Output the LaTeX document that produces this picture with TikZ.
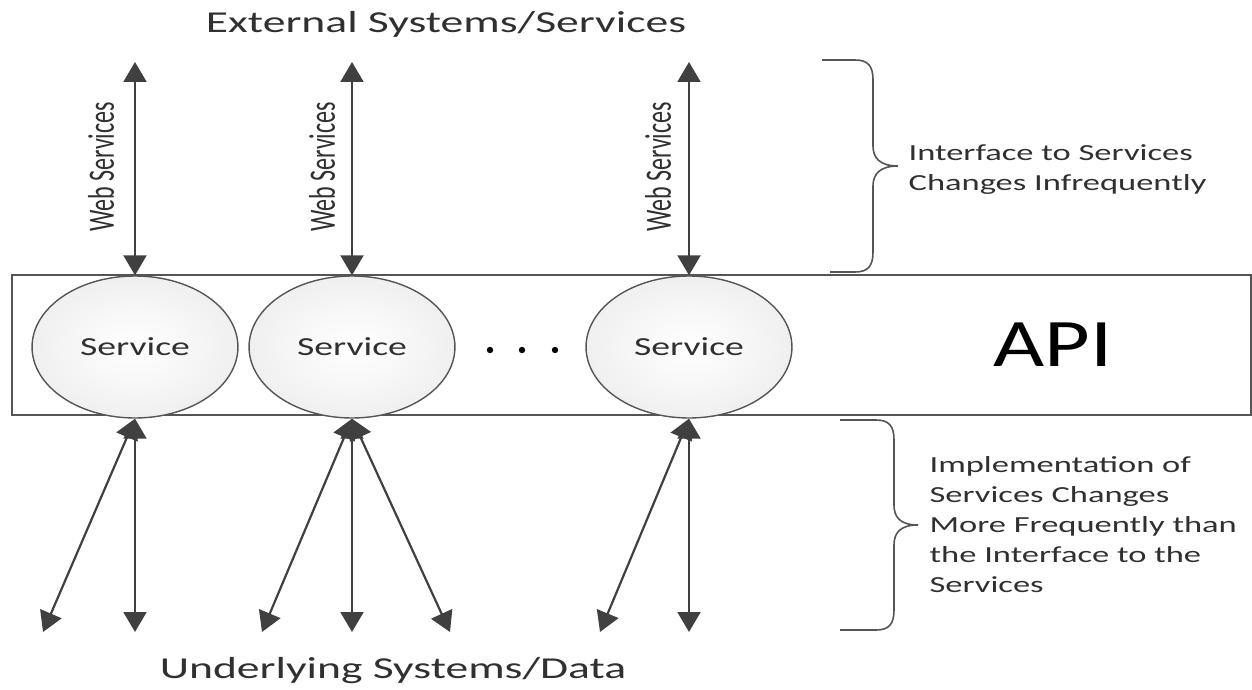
\documentclass[tikz,border=0pt]{standalone}
\usepackage{fontspec}
\setmainfont{Carlito}
\usetikzlibrary{arrows.meta}
\definecolor{txtgray}{HTML}{303030}
\definecolor{linegray}{HTML}{555555}
\definecolor{arrowgray}{HTML}{404040}

\begin{document}
\begin{tikzpicture}[x=0.5pt,y=-0.5pt,>={Triangle[length=10pt,width=11.5pt]}]
\tikzstyle{every node}=[text=txtgray]
\tikzstyle{svc}=[circle, draw=linegray, line width=0.7pt, minimum size=71pt, inner sep=0pt, xscale=1.45, inner color=white, outer color=gray!12, font=\fontsize{13}{15}\selectfont]
\tikzstyle{link}=[<->, draw=arrowgray, line width=1.1pt]
\tikzstyle{wslabel}=[xscale=1.55, rotate=90, font=\fontsize{12}{14}\selectfont]
\tikzstyle{note}=[xscale=1.5, anchor=west, align=left, inner sep=0pt, font=\fontsize{11.5}{15}\selectfont]
\tikzstyle{heading}=[xscale=1.5, font=\fontsize{15.2}{18}\selectfont]
\tikzstyle{curly}=[draw=linegray, line width=0.8pt]
\useasboundingbox (0,0) rectangle (1252,690);

% API layer
\draw[draw=linegray, line width=0.8pt] (12,275) rectangle (1251,415);
\node[svc] (svc1) at (135,347) {Service};
\node[svc] (svc2) at (352,347) {Service};
\node[svc] (svc3) at (689,347) {Service};
\foreach \x in {490,522,555} \fill[black] (\x,350) circle (1.6pt);
\node[font=\fontsize{34}{40}\selectfont, xscale=1.3, text=black] (api) at (1053,345) {API};

% external side
\node[heading] (ext) at (446,24) {External Systems/Services};
\coordinate (ext1) at (135,62);
\coordinate (ext2) at (352,62);
\coordinate (ext3) at (689,62);
\draw[link] (ext1) -- (svc1.north);
\draw[link] (ext2) -- (svc2.north);
\draw[link] (ext3) -- (svc3.north);
\node[wslabel] (ws1) at (101,167) {Web Services};
\node[wslabel] (ws2) at (322,167) {Web Services};
\node[wslabel] (ws3) at (658,167) {Web Services};

% underlying side
\node[heading] (under) at (393,671) {Underlying Systems/Data};
\coordinate (sys1a) at (43,632);
\coordinate (sys1b) at (135,632);
\coordinate (sys2a) at (262,632);
\coordinate (sys2b) at (352,632);
\coordinate (sys2c) at (450,632);
\coordinate (sys3a) at (600,632);
\coordinate (sys3b) at (689,632);
\draw[link] (svc1.south) -- (sys1a);
\draw[link] (svc1.south) -- (sys1b);
\draw[link] (svc2.south) -- (sys2a);
\draw[link] (svc2.south) -- (sys2b);
\draw[link] (svc2.south) -- (sys2c);
\draw[link] (svc3.south) -- (sys3a);
\draw[link] (svc3.south) -- (sys3b);

% braces and notes
\draw[curly] (822,60) -- (855,60) .. controls (868,60) and (873,66) .. (873,80) -- (873,146)
  .. controls (873,158) and (880,166) .. (898,166) .. controls (880,166) and (873,174) .. (873,186)
  -- (873,252) .. controls (873,266) and (868,272) .. (855,272) -- (830,272);
\draw[curly] (840,420) -- (876,420) .. controls (889,420) and (894,426) .. (894,440) -- (894,505)
  .. controls (894,517) and (900,525) .. (918,525) .. controls (900,525) and (894,533) .. (894,545)
  -- (894,610) .. controls (894,624) and (889,630) .. (876,630) -- (840,630);
\node[note] (stable) at (908,170) {Interface to Services\\Changes Infrequently};
\node[note] (volatile) at (929,525) {Implementation of\\Services Changes\\More Frequently than\\the Interface to the\\Services};
\end{tikzpicture}
\end{document}
